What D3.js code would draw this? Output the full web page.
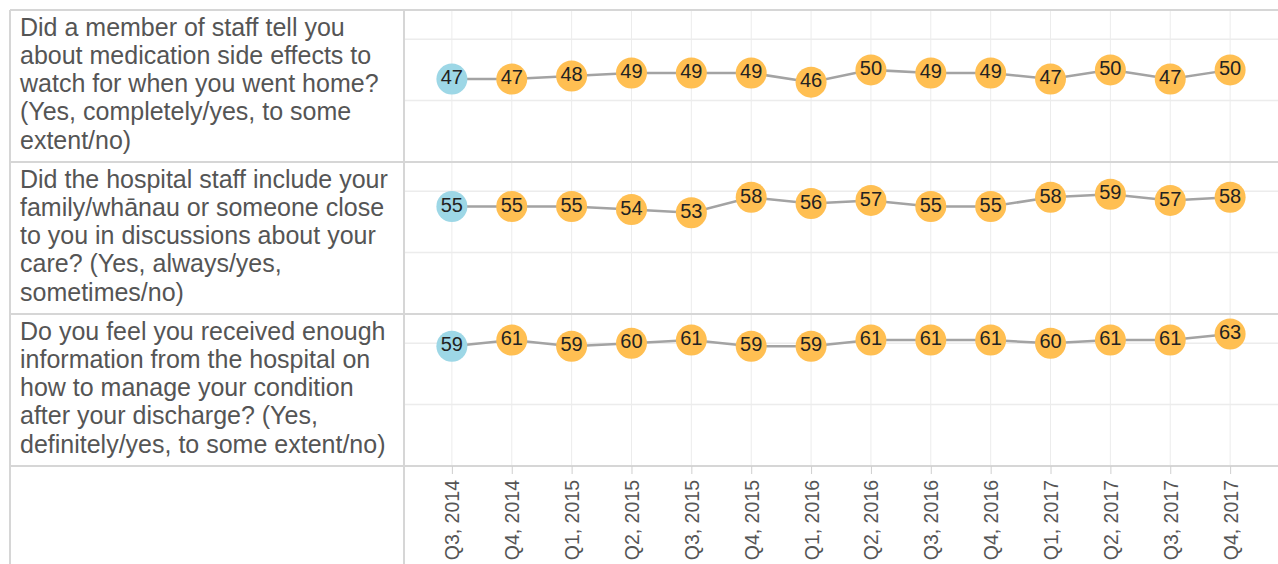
<!DOCTYPE html>
<html>
<head>
<meta charset="utf-8">
<script src="https://d3js.org/d3.v7.min.js"></script>
<style>
  body { margin: 0; background: #fff; }
  svg { display: block; font-family: Arial, "Liberation Sans", sans-serif; }
</style>
</head>
<body>
<div id="chart"></div>
<script>
const width = 1278;
const height = 564;

// data
const quarters = ["Q3, 2014", "Q4, 2014", "Q1, 2015", "Q2, 2015", "Q3, 2015", "Q4, 2015", "Q1, 2016",
  "Q2, 2016", "Q3, 2016", "Q4, 2016", "Q1, 2017", "Q2, 2017", "Q3, 2017", "Q4, 2017"];

const questionLines = [
  ["Did a member of staff tell you", "about medication side effects to", "watch for when you went home?", "(Yes, completely/yes, to some", "extent/no)"],
  ["Did the hospital staff include your", "family/wh\u0101nau or someone close", "to you in discussions about your", "care? (Yes, always/yes,", "sometimes/no)"],
  ["Do you feel you received enough", "information from the hospital on", "how to manage your condition", "after your discharge? (Yes,", "definitely/yes, to some extent/no)"]
];

const sideEffects = [47, 47, 48, 49, 49, 49, 46, 50, 49, 49, 47, 50, 47, 50];
const familyIncluded = [55, 55, 55, 54, 53, 58, 56, 57, 55, 55, 58, 59, 57, 58];
const enoughInfo = [59, 61, 59, 60, 61, 59, 59, 61, 61, 61, 60, 61, 61, 63];

const seriesList = [sideEffects, familyIncluded, enoughInfo];
const gridValues = [40, 60];

// layout
const leftX = 10;
const splitX = 404;
const topY = 10;
const panelH = 152;

const svg = d3.select("#chart").append("svg")
  .attr("width", width).attr("height", height);

const x = d3.scalePoint().domain(quarters).range([splitX, width]).padding(0.8);
const y = d3.scaleLinear().domain([20, 69.5]).range([panelH, 0]);

const axisTop = topY + panelH * seriesList.length;

// vertical gridlines
svg.append("g").selectAll("line").data(quarters).join("line")
  .attr("x1", d => x(d)).attr("x2", d => x(d))
  .attr("y1", topY).attr("y2", axisTop)
  .attr("stroke", "#ececec").attr("stroke-width", 1);

// panels
seriesList.forEach((values, i) => {
  const g = svg.append("g").attr("transform", `translate(0,${topY + i * panelH})`);

  g.selectAll(".grid").data(gridValues).join("line")
    .attr("class", "grid")
    .attr("x1", splitX).attr("x2", width)
    .attr("y1", d => y(d)).attr("y2", d => y(d))
    .attr("stroke", "#ececec").attr("stroke-width", 1.5);

  const txt = g.append("text")
    .attr("fill", "#555")
    .style("font-size", "25px");
  txt.selectAll("tspan").data(questionLines[i]).join("tspan")
    .attr("x", 20)
    .attr("y", (d, j) => 25.5 + j * 28.3)
    .text(d => d);

  const pts = values.map((v, j) => ({q: quarters[j], v: v, first: j === 0}));

  g.append("path").datum(pts)
    .attr("fill", "none")
    .attr("stroke", "#a3a3a3")
    .attr("stroke-width", 2.5)
    .attr("d", d3.line().x(d => x(d.q)).y(d => y(d.v)));

  g.selectAll("circle").data(pts).join("circle")
    .attr("cx", d => x(d.q)).attr("cy", d => y(d.v))
    .attr("r", 15.5)
    .attr("fill", d => d.first ? "#9dd7e6" : "#ffbf52");

  g.selectAll(".lbl").data(pts).join("text")
    .attr("class", "lbl")
    .attr("x", d => x(d.q)).attr("y", d => y(d.v) - 2)
    .attr("dy", "0.36em")
    .attr("text-anchor", "middle")
    .attr("fill", "#222")
    .style("font-size", "20px")
    .text(d => d.v);
});

// borders
const borders = svg.append("g").attr("stroke", "#d6d6d6").attr("stroke-width", 2);
d3.range(seriesList.length + 1).forEach(i => {
  borders.append("line")
    .attr("x1", leftX).attr("x2", width)
    .attr("y1", topY + i * panelH).attr("y2", topY + i * panelH);
});
borders.append("line").attr("x1", leftX).attr("x2", leftX).attr("y1", topY).attr("y2", height);
borders.append("line").attr("x1", splitX).attr("x2", splitX).attr("y1", topY).attr("y2", height);

// x axis
const xAxis = svg.append("g")
  .attr("transform", `translate(0,${axisTop})`)
  .call(d3.axisBottom(x).tickSize(8).tickSizeOuter(0));
xAxis.select(".domain").remove();
xAxis.selectAll(".tick line").attr("stroke", "#cfcfcf");
xAxis.selectAll(".tick text")
  .attr("fill", "#555")
  .style("font-size", "19.5px")
  .style("font-family", "Arial, 'Liberation Sans', sans-serif")
  .attr("text-anchor", "end")
  .attr("transform", "translate(0,14) rotate(-90)")
  .attr("x", 0).attr("y", 0)
  .attr("dy", "0.36em");
</script>
</body>
</html>
